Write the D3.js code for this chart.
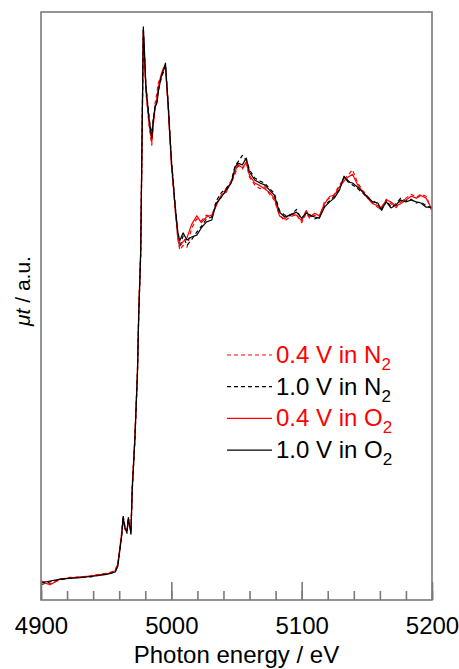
<!DOCTYPE html>
<html>
<head>
<meta charset="utf-8">
<script src="https://cdn.jsdelivr.net/npm/d3@7"></script>
<style>
  body { margin: 0; background: #fff; }
  svg { display: block; font-family: "Liberation Sans", Arial, sans-serif; }
</style>
</head>
<body>
<div id="chart"></div>
<script>
// photon energy grid (eV), shared by all spectra
const energy = [
  4900, 4907, 4915, 4922, 4930, 4938, 4945, 4952, 4957, 4959,
  4961, 4962, 4963, 4964.5, 4966, 4967, 4969, 4970, 4972, 4974,
  4975, 4976.5, 4977.5, 4978.5, 4979.5, 4980.5, 4983, 4985, 4986, 4987.5,
  4989, 4990, 4992, 4994, 4995.5, 4997.5, 5000, 5003, 5005, 5006.5,
  5009, 5012, 5015.5, 5019.5, 5023, 5027, 5031, 5034.5, 5038.5, 5042,
  5046, 5049, 5051, 5054.5, 5057.5, 5060, 5064, 5068, 5071.5, 5075.5,
  5079, 5083, 5087, 5091, 5096, 5100, 5103.5, 5106, 5110, 5113.5,
  5117.5, 5121.5, 5125, 5129, 5132.5, 5135.5, 5139, 5143, 5147, 5150.5,
  5154.5, 5158.5, 5161, 5165, 5168.5, 5172.5, 5176, 5180, 5184, 5188,
  5191.5, 5195.5, 5200
];

// normalised absorption (a.u.)
const n2_04 = [
  -0.008, -0.015, -0.005, 0.002, 0.002, 0.006, 0.010, 0.013, 0.020, 0.040,
  0.092, 0.125, 0.158, 0.130, 0.128, 0.152, 0.125, 0.245, 0.372, 0.548,
  0.710, 0.870, 1.145, 1.440, 1.365, 1.285, 1.195, 1.145, 1.190, 1.255,
  1.285, 1.310, 1.325, 1.345, 1.350, 1.248, 1.095, 0.970, 0.895, 0.868,
  0.880, 0.875, 0.925, 0.950, 0.945, 0.960, 0.955, 0.990, 1.010, 1.030,
  1.045, 1.070, 1.090, 1.082, 1.098, 1.060, 1.040, 1.030, 1.035, 1.015,
  1.000, 0.960, 0.945, 0.955, 0.962, 0.940, 0.965, 0.952, 0.960, 0.952,
  0.995, 1.005, 1.015, 1.040, 1.055, 1.065, 1.080, 1.045, 1.025, 1.010,
  0.992, 0.980, 0.978, 1.002, 0.990, 0.980, 0.995, 1.005, 1.015, 1.008,
  1.015, 1.010, 0.970
];
const n2_10 = [
  -0.018, -0.010, -0.004, 0.000, 0.002, 0.003, 0.008, 0.010, 0.017, 0.035,
  0.090, 0.118, 0.165, 0.135, 0.118, 0.162, 0.116, 0.230, 0.360, 0.540,
  0.698, 0.855, 1.160, 1.455, 1.380, 1.305, 1.215, 1.170, 1.210, 1.250,
  1.262, 1.290, 1.318, 1.340, 1.358, 1.262, 1.110, 0.985, 0.905, 0.875,
  0.905, 0.880, 0.895, 0.915, 0.930, 0.950, 0.955, 0.998, 1.020, 1.030,
  1.050, 1.092, 1.100, 1.118, 1.105, 1.080, 1.058, 1.050, 1.045, 1.030,
  1.018, 0.972, 0.960, 0.958, 0.975, 0.948, 0.970, 0.962, 0.950, 0.955,
  0.985, 0.998, 1.010, 1.030, 1.060, 1.052, 1.040, 1.030, 1.018, 1.005,
  0.998, 0.990, 0.970, 0.998, 0.982, 0.990, 1.005, 0.998, 1.002, 0.992,
  0.995, 0.985, 0.978
];
const o2_04 = [
  -0.010, -0.018, -0.002, 0.000, 0.003, 0.005, 0.009, 0.012, 0.019, 0.038,
  0.095, 0.120, 0.155, 0.128, 0.125, 0.150, 0.122, 0.240, 0.370, 0.545,
  0.705, 0.865, 1.150, 1.447, 1.370, 1.290, 1.200, 1.153, 1.195, 1.240,
  1.270, 1.300, 1.330, 1.350, 1.352, 1.250, 1.100, 0.975, 0.905, 0.878,
  0.890, 0.900, 0.935, 0.958, 0.940, 0.955, 0.960, 0.985, 1.015, 1.020,
  1.050, 1.075, 1.095, 1.085, 1.100, 1.065, 1.045, 1.038, 1.030, 1.020,
  1.005, 0.958, 0.950, 0.962, 0.960, 0.945, 0.972, 0.955, 0.965, 0.958,
  0.990, 1.010, 1.012, 1.035, 1.050, 1.060, 1.068, 1.040, 1.020, 1.005,
  0.990, 0.985, 0.980, 1.000, 0.995, 0.985, 0.990, 1.000, 1.010, 1.005,
  1.012, 1.005, 0.975
];
const o2_10 = [
  -0.013, -0.008, -0.003, -0.001, 0.001, 0.004, 0.007, 0.011, 0.016, 0.032,
  0.087, 0.114, 0.161, 0.132, 0.122, 0.159, 0.119, 0.233, 0.365, 0.542,
  0.700, 0.860, 1.156, 1.458, 1.384, 1.299, 1.212, 1.164, 1.206, 1.246,
  1.257, 1.286, 1.323, 1.344, 1.362, 1.257, 1.106, 0.981, 0.915, 0.892,
  0.913, 0.894, 0.902, 0.907, 0.926, 0.942, 0.947, 0.992, 1.008, 1.026,
  1.045, 1.087, 1.098, 1.093, 1.111, 1.074, 1.053, 1.045, 1.040, 1.026,
  1.013, 0.968, 0.955, 0.960, 0.968, 0.952, 0.966, 0.960, 0.955, 0.952,
  0.981, 0.995, 1.005, 1.026, 1.063, 1.048, 1.045, 1.034, 1.021, 1.008,
  0.995, 0.992, 0.974, 0.995, 0.979, 0.987, 1.000, 0.995, 1.000, 0.995,
  0.992, 0.981, 0.981
];

const majorTicks = [4900, 5000, 5100, 5200];
const minorTicks = d3.range(4900, 5201, 20);

const series = [
  { label: "0.4 V in ", gas: "N", values: n2_04, color: "#ff0000", dash: "4,3" },
  { label: "1.0 V in ", gas: "N", values: n2_10, color: "#000000", dash: "4,3" },
  { label: "0.4 V in ", gas: "O", values: o2_04, color: "#ff0000", dash: null },
  { label: "1.0 V in ", gas: "O", values: o2_10, color: "#000000", dash: null },
];

const width = 459, height = 669;
const margin = { top: 12, right: 27, bottom: 69, left: 41 };

const svg = d3.select("#chart").append("svg")
  .attr("width", width)
  .attr("height", height);

const x = d3.scaleLinear()
  .domain([4900, 5200])
  .range([margin.left, width - margin.right]);

const y = d3.scaleLinear()
  .domain([-0.0582, 1.4974])
  .range([height - margin.bottom, margin.top]);

svg.append("clipPath").attr("id", "plot")
  .append("rect")
  .attr("x", margin.left).attr("y", margin.top)
  .attr("width", x.range()[1] - margin.left)
  .attr("height", y.range()[0] - margin.top);

// spectra
const line = d3.line()
  .x((d, i) => x(energy[i]))
  .y(d => y(d));

svg.append("g")
  .attr("clip-path", "url(#plot)")
  .selectAll("path")
  .data(series)
  .join("path")
  .attr("d", d => line(d.values))
  .attr("fill", "none")
  .attr("stroke", d => d.color)
  .attr("stroke-width", 1.2)
  .attr("stroke-dasharray", d => d.dash)
  .attr("stroke-linejoin", "round");

// frame
const frameColor = "#7a7a7a";
svg.append("rect")
  .attr("x", margin.left)
  .attr("y", margin.top)
  .attr("width", x.range()[1] - margin.left)
  .attr("height", y.range()[0] - margin.top)
  .attr("fill", "none")
  .attr("stroke", frameColor)
  .attr("stroke-width", 1.6);

// minor ticks (inward)
svg.append("g")
  .attr("transform", `translate(0,${y.range()[0]})`)
  .call(d3.axisBottom(x).tickValues(minorTicks).tickSize(-9).tickFormat(""))
  .call(g => g.select(".domain").remove())
  .call(g => g.selectAll(".tick line").attr("stroke", frameColor).attr("stroke-width", 1.6));

// major ticks + labels
svg.append("g")
  .attr("transform", `translate(0,${y.range()[0]})`)
  .call(d3.axisBottom(x).tickValues(majorTicks).tickSize(-18).tickPadding(17).tickFormat(d3.format("d")))
  .call(g => g.select(".domain").remove())
  .call(g => g.selectAll(".tick line").attr("stroke", frameColor).attr("stroke-width", 1.6))
  .call(g => g.selectAll(".tick text")
    .attr("fill", "#000")
    .style("font-size", "24px")
    .style("font-family", "'Liberation Sans', Arial, sans-serif"));

// axis titles
svg.append("text")
  .attr("x", (margin.left + x.range()[1]) / 2)
  .attr("y", 663)
  .attr("text-anchor", "middle")
  .style("font-size", "24px")
  .text("Photon energy / eV");

const yTitle = svg.append("text")
  .attr("transform", "translate(30,291) rotate(-90)")
  .attr("text-anchor", "middle")
  .style("font-size", "21px");
yTitle.append("tspan").style("font-style", "italic").text("μt");
yTitle.append("tspan").text(" / a.u.");

// legend
const legend = svg.append("g");
const rows = legend.selectAll("g")
  .data(series)
  .join("g")
  .attr("transform", (d, i) => `translate(0,${355 + i * 31.7})`);

rows.append("line")
  .attr("x1", 227).attr("x2", 272)
  .attr("stroke", d => d.color)
  .attr("stroke-width", 1.2)
  .attr("stroke-dasharray", d => d.dash);

const lt = rows.append("text")
  .attr("x", 276)
  .attr("y", 8)
  .attr("fill", d => d.color)
  .style("font-size", "24px");
lt.append("tspan").text(d => d.label + d.gas);
lt.append("tspan")
  .attr("dy", 7)
  .style("font-size", "17px")
  .text("2");
</script>
</body>
</html>
